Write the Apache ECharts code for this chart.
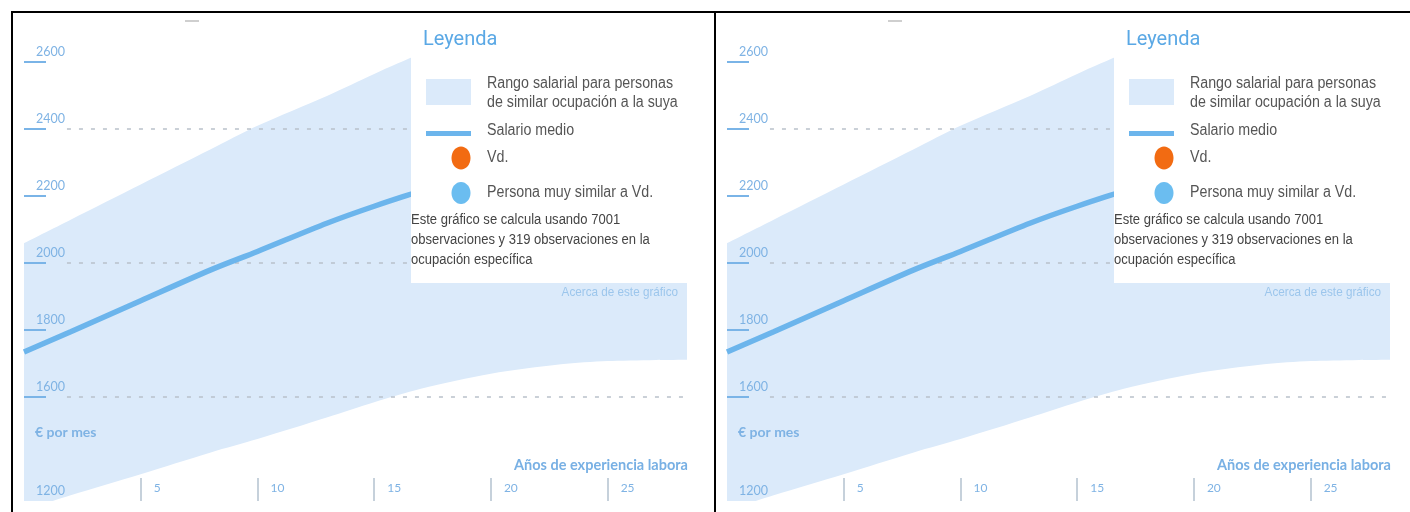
<!DOCTYPE html>
<html>
<head>
<meta charset="utf-8">
<script src="https://cdn.jsdelivr.net/npm/echarts@6/dist/echarts.min.js"></script>
<style>
  html, body { margin: 0; padding: 0; background: #fff; width: 1410px; height: 512px; overflow: hidden; }
  .panel { position: absolute; top: 11px; height: 499px; border-top: 2px solid #000; border-left: 2px solid #000; overflow: hidden; }
  #p1 { left: 11px; width: 701px; }
  #p2 { left: 714px; width: 694px; }
  .chart { width: 701px; height: 499px; }
</style>
</head>
<body>
<div class="panel" id="p1"><div class="chart" id="c1"></div></div>
<div class="panel" id="p2"><div class="chart" id="c2"></div></div>
<script>
// Years of work experience and monthly salary (EUR)
const years         = [0,    2,    5,    8,    10,   13,   15,   17,   20,   23,   25,   28.4];
const upperSalary   = [2060, 2130, 2235, 2340, 2410, 2500, 2565, 2625, 2700, 2760, 2800, 2850];
const medianSalary  = [1735, 1795, 1888, 1980, 2035, 2120, 2170, 2215, 2270, 2310, 2330, 2350];
const lowerSalary   = [1262, 1307, 1370, 1435, 1475, 1540, 1585, 1625, 1670, 1698, 1708, 1712];

// Axis ticks
const xTickValues = [5, 10, 15, 20, 25];
const yTickValues = [1600, 1800, 2000, 2200, 2400, 2600];
const yGridValues = [1600, 2000, 2400];
const yMinLabel = '1200';

// Texts
const legendTitle = 'Leyenda';
const legendRangeLines = ['Rango salarial para personas', 'de similar ocupación a la suya'];
const legendMedian = 'Salario medio';
const legendYou = 'Vd.';
const legendSimilar = 'Persona muy similar a Vd.';
const noteLines = ['Este gráfico se calcula usando 7001', 'observaciones y 319 observaciones en la', 'ocupación específica'];
const aboutLink = 'Acerca de este gráfico';
const yAxisName = '€ por mes';
const xAxisName = 'Años de experiencia laboral';

// Scale limits
const X_MIN = 0, X_MAX = 28.4;
const Y_MIN = 1290, Y_MAX = 2720;
const GRID_LINE_X0 = 1.84;

// Colours and fonts
const BAND = '#dbeafa';
const LINE_BLUE = '#6cb5ec';
const LABEL_BLUE = '#7fb3e4';
const TICK_BLUE = '#7ab4e7';
const GRID_GRAY = '#b9c1ca';
const ORANGE = '#f26b12';
const DOT_BLUE = '#6bbdf0';
const SANS = "'Liberation Sans', Arial, sans-serif";

const pairs = ys => years.map((x, i) => [x, ys[i]]);

function legendGraphics() {
  const items = [];
  // condensed text: a regular sans squeezed horizontally
  const txt = (x, y, text, extra, sx) => ({
    type: 'text', x, y, z: 101, scaleX: sx || 1,
    style: Object.assign({ text, fontFamily: SANS, fontSize: 16, fill: '#555', verticalAlign: 'middle', align: 'left' }, extra || {})
  });
  items.push({ type: 'rect', shape: { x: 398, y: 0, width: 277, height: 270 }, style: { fill: '#fff' }, z: 100 });
  items.push(txt(410, 27, legendTitle, { fontFamily: 'Roboto', fontSize: 20, fill: '#5aa8e5' }));
  items.push({ type: 'rect', shape: { x: 413, y: 66, width: 45, height: 26 }, style: { fill: BAND }, z: 101 });
  items.push(txt(474, 71, legendRangeLines[0], null, 0.89));
  items.push(txt(474, 90, legendRangeLines[1], null, 0.89));
  items.push({ type: 'rect', shape: { x: 413, y: 118, width: 45, height: 5 }, style: { fill: LINE_BLUE }, z: 101 });
  items.push(txt(474, 118, legendMedian, null, 0.89));
  items.push({ type: 'ellipse', shape: { cx: 448, cy: 145, rx: 9.5, ry: 11.5 }, style: { fill: ORANGE }, z: 101 });
  items.push(txt(474, 145, legendYou, null, 0.89));
  items.push({ type: 'ellipse', shape: { cx: 448, cy: 180, rx: 9.5, ry: 11 }, style: { fill: DOT_BLUE }, z: 101 });
  items.push(txt(474, 180, legendSimilar, null, 0.89));
  noteLines.forEach((line, i) => items.push(txt(398, 207 + i * 20, line, { fontSize: 14, fill: '#444' }, 0.93)));
  items.push(txt(665, 279, aboutLink, { fontSize: 13, fill: '#9cc6ec', align: 'right' }, 0.9));
  items.push(txt(22, 419, yAxisName, { fontFamily: 'Lato', fontWeight: 'bold', fontSize: 14, fill: LABEL_BLUE }));
  // the axis title runs past the plot's right edge and is cut there
  items.push(txt(501, 452, xAxisName, {
    fontFamily: 'Lato', fontWeight: 'bold', fontSize: 14.5, fill: '#78b0e4',
    width: 176, overflow: 'truncate', ellipsis: ''
  }));
  items.push({ type: 'rect', shape: { x: 172, y: 7, width: 14, height: 2 }, style: { fill: '#cfcfcf' }, z: 101 });
  return items;
}

function buildOption() {
  return {
    animation: false,
    grid: { left: 11, right: 27, top: 9, bottom: 11 },
    xAxis: {
      type: 'value', min: X_MIN, max: X_MAX, z: 5,
      axisLine: { show: false }, splitLine: { show: false },
      axisTick: { show: true, inside: true, length: 23, customValues: xTickValues, lineStyle: { color: '#b4c2d0', width: 1.5 } },
      axisLabel: {
        show: true, inside: true, customValues: xTickValues, margin: 13,
        align: 'left', verticalAlign: 'middle', padding: [0, 0, 0, 13],
        color: LABEL_BLUE, fontFamily: 'Lato', fontSize: 12
      }
    },
    yAxis: {
      type: 'value', min: Y_MIN, max: Y_MAX, z: 5,
      axisLine: { show: false }, splitLine: { show: false },
      axisTick: { show: true, inside: true, length: 22, customValues: yTickValues, lineStyle: { color: TICK_BLUE, width: 2 } },
      axisLabel: {
        show: true, inside: true, customValues: [Y_MIN].concat(yTickValues), margin: 12,
        align: 'left', verticalAlign: 'bottom', padding: [0, 0, 4, 0],
        color: LABEL_BLUE, fontFamily: 'Lato', fontSize: 12.5,
        formatter: v => (v === Y_MIN ? yMinLabel : String(v))
      }
    },
    series: [
      {
        type: 'line', name: legendRangeLines.join(' '), data: pairs(upperSalary), smooth: 0.3,
        symbol: 'none', lineStyle: { width: 0 }, areaStyle: { color: BAND, opacity: 1, origin: 'start' },
        z: 1, silent: true
      },
      {
        type: 'line', data: pairs(lowerSalary), smooth: 0.3,
        symbol: 'none', lineStyle: { width: 0 }, areaStyle: { color: '#fff', opacity: 1, origin: 'start' },
        z: 1, silent: true,
        markLine: {
          silent: true, symbol: 'none', label: { show: false },
          lineStyle: { type: [4, 8], color: GRID_GRAY, width: 1.5 },
          data: yGridValues.map(v => [{ coord: [GRID_LINE_X0, v] }, { coord: [X_MAX, v] }])
        }
      },
      {
        type: 'line', name: legendMedian, data: pairs(medianSalary), smooth: 0.3,
        symbol: 'none', lineStyle: { width: 5.5, color: LINE_BLUE }, z: 6, silent: true
      }
    ],
    graphic: legendGraphics()
  };
}

['c1', 'c2'].forEach(id => {
  const chart = echarts.init(document.getElementById(id), null, { renderer: 'canvas' });
  chart.setOption(buildOption());
});
</script>
</body>
</html>
